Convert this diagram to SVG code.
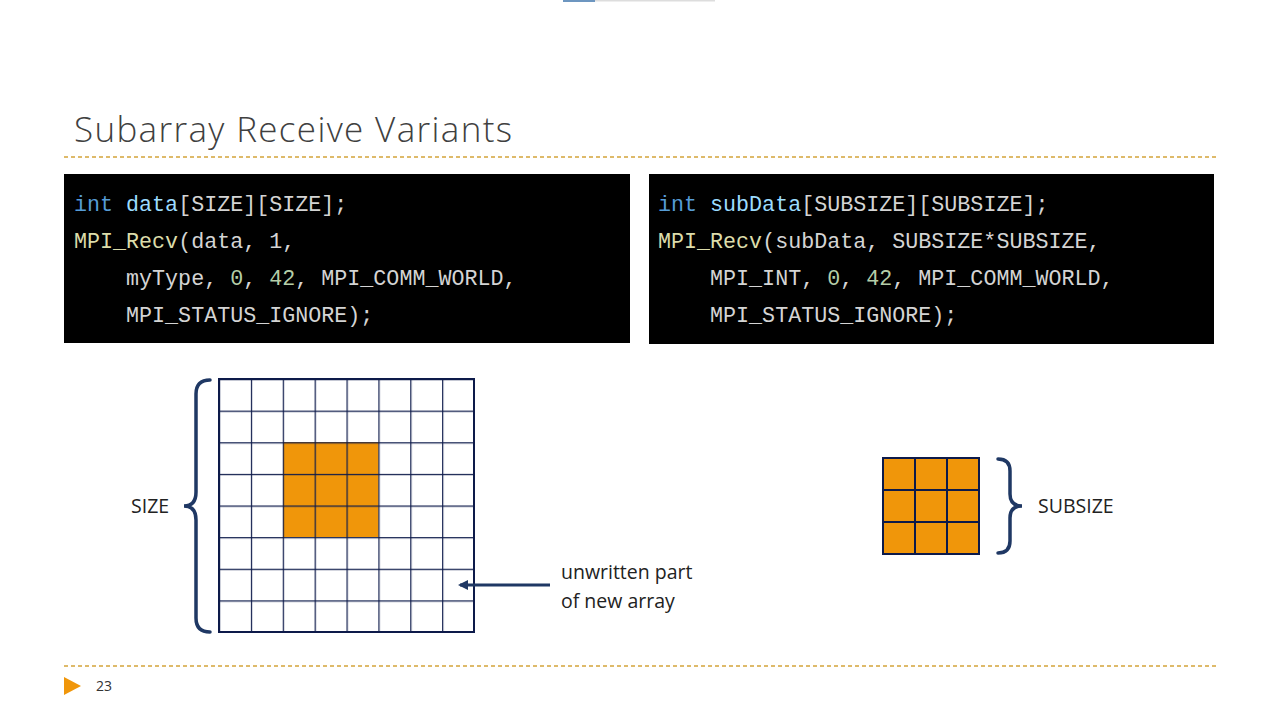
<svg xmlns="http://www.w3.org/2000/svg" width="1280" height="720" viewBox="0 0 1280 720">
<defs>
<style>
.code{font-family:"Liberation Mono","DejaVu Sans Mono",monospace;font-size:21.7px;fill:#d4d4d4;white-space:pre}
.kw{fill:#569cd6}.var{fill:#9cdcfe}.fn{fill:#dcdcaa}.num{fill:#b5cea8}
.lbl{font-family:"Open Sans","Liberation Sans",sans-serif;font-size:19.5px;fill:#222}
.grid{stroke:#0d1a4a;stroke-width:2;fill:none}
.brace{stroke:#1f3864;stroke-width:3.5;fill:none;stroke-linecap:round}
.dash{stroke:#d4a43a;stroke-width:1.3;stroke-dasharray:4 3}
</style>
<marker id="ah" markerWidth="10" markerHeight="10" refX="8" refY="5" orient="auto" markerUnits="userSpaceOnUse"><path d="M0,0 L10,5 L0,10 z" fill="#1f3864"/></marker>
<pattern id="cells" width="31.875" height="31.625" patternUnits="userSpaceOnUse" x="219" y="379"><path d="M0,0 H31.875 M0,0 V31.625" stroke="#0d1a4a" stroke-width="2.4" fill="none"/></pattern>
</defs>
<rect width="1280" height="720" fill="#fff"/>
<rect x="563" y="0" width="32" height="2" fill="#6d96c0"/>
<rect x="595" y="0" width="120" height="1.5" fill="#ddd"/>
<text x="74" y="142" font-family="Open Sans, Liberation Sans, sans-serif" font-weight="300" font-size="35" fill="#404040" textLength="438">Subarray Receive Variants</text>
<line class="dash" x1="64" y1="157" x2="1216" y2="157"/>
<line class="dash" x1="64" y1="666" x2="1216" y2="666"/>
<polygon points="64,677 81,686 64,695" fill="#f0960a"/>
<text x="96" y="691" font-family="Open Sans, Liberation Sans, sans-serif" font-size="14" fill="#333">23</text>
<g id="code-left">
<rect x="64" y="174" width="566" height="169" fill="#000"/>
<text class="code" x="74" y="211"><tspan class="kw">int</tspan> <tspan class="var">data</tspan>[SIZE][SIZE];</text>
<text class="code" x="74" y="248"><tspan class="fn">MPI_Recv</tspan>(data, 1,</text>
<text class="code" x="74" y="285">    myType, <tspan class="num">0</tspan>, <tspan class="num">42</tspan>, MPI_COMM_WORLD,</text>
<text class="code" x="74" y="322">    MPI_STATUS_IGNORE);</text>
</g>
<g id="code-right">
<rect x="649" y="174" width="565" height="170" fill="#000"/>
<text class="code" x="658" y="211"><tspan class="kw">int</tspan> <tspan class="var">subData</tspan>[SUBSIZE][SUBSIZE];</text>
<text class="code" x="658" y="248"><tspan class="fn">MPI_Recv</tspan>(subData, SUBSIZE*SUBSIZE,</text>
<text class="code" x="658" y="285">    MPI_INT, <tspan class="num">0</tspan>, <tspan class="num">42</tspan>, MPI_COMM_WORLD,</text>
<text class="code" x="658" y="322">    MPI_STATUS_IGNORE);</text>
</g>
<g id="big-array">
<rect x="219" y="379" width="255" height="253" fill="#fff"/>
<rect x="283" y="442" width="95.6" height="95" fill="#f0960a"/>
<rect x="219" y="379" width="255" height="253" fill="url(#cells)"/>
<rect class="grid" x="219" y="379" width="255" height="253"/>
</g>
<g id="size-brace">
<path class="brace" d="M210,380 Q196,380 196,394 V492 Q196,506 184,506 Q196,506 196,520 V618 Q196,632 210,632"/>
<text class="lbl" x="131" y="513">SIZE</text>
</g>
<g id="small-array">
<rect x="883" y="458" width="96" height="96" fill="#f0960a"/>
<path class="grid" d="M883,458 H979 V554 H883 Z M915,458 V554 M947,458 V554 M883,490 H979 M883,522 H979"/>
</g>
<g id="subsize-brace">
<path class="brace" d="M998,459 Q1010,459 1010,471 V494 Q1010,506 1022,506 Q1010,506 1010,518 V541 Q1010,553 998,553"/>
<text class="lbl" x="1038" y="513">SUBSIZE</text>
</g>
<g id="connectors">
<line x1="550" y1="585" x2="460" y2="585" stroke="#1f3864" stroke-width="3" marker-end="url(#ah)"/>
</g>
<g id="note">
<text class="lbl" x="561" y="579">unwritten part</text>
<text class="lbl" x="561" y="608">of new array</text>
</g>
</svg>
